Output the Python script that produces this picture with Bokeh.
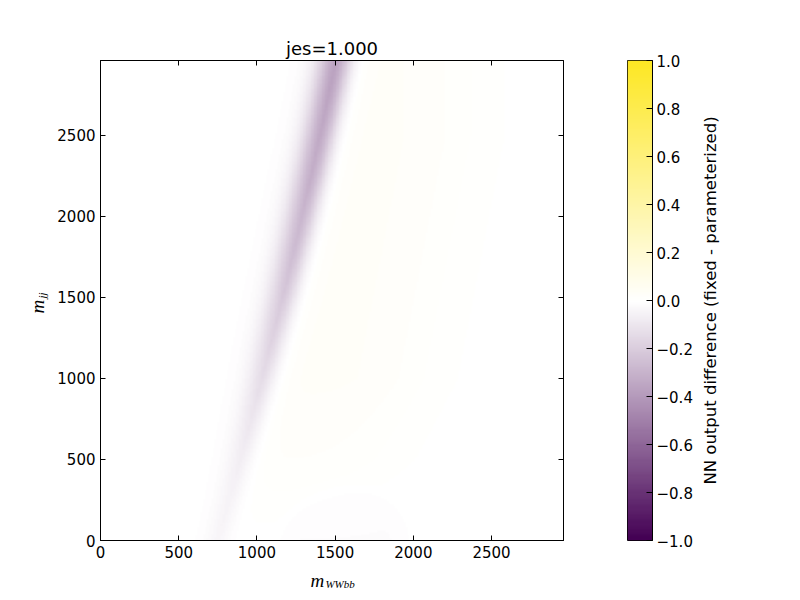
import numpy as np
from bokeh.plotting import figure
from bokeh.layouts import row
from bokeh.models import (LinearColorMapper, FixedTicker, LinearAxis, Label,
                          CustomJSTickFormatter)
from bokeh.embed import file_html
from bokeh.resources import INLINE

# ---------------- data ----------------
title_text = "jes=1.000"
x_ticks = [0, 500, 1000, 1500, 2000, 2500]
y_ticks = [0, 500, 1000, 1500, 2000, 2500]
axis_max = 2960
cbar_ticks = [-1.0, -0.8, -0.6, -0.4, -0.2, 0.0, 0.2, 0.4, 0.6, 0.8, 1.0]
cbar_label = "NN output difference (fixed - parameterized)"

# purple ridge (negative difference): centre, peak value, core half-width, edge softness
band_y = [0, 250, 500, 750, 1000, 1250, 1500, 1750, 2000, 2250, 2500, 2750, 2960]
band_center = [748, 822, 893, 964, 1033, 1099, 1165, 1227, 1287, 1346, 1403, 1458, 1502]
band_depth = [-0.04, -0.05, -0.07, -0.10, -0.14, -0.18, -0.22, -0.26, -0.29, -0.32, -0.34, -0.36, -0.37]
band_core = [45, 48, 50, 52, 55, 58, 62, 65, 68, 70, 72, 74, 75]
band_edge_left = [38, 40, 42, 44, 45, 46, 46, 46, 46, 46, 45, 45, 45]
band_edge_right = [28, 30, 31, 32, 33, 33, 33, 33, 33, 33, 33, 33, 33]

# faint yellow glow right of the ridge
glow_amp = [0.0, 0.01, 0.02, 0.025, 0.03, 0.03, 0.03, 0.03, 0.03, 0.03, 0.03, 0.03, 0.03]
glow_end = [1400, 1600, 1800, 1900, 2000, 2050, 2100, 2150, 2200, 2250, 2300, 2300, 2300]

# faint grey dome at the bottom
dome_cx, dome_rx, dome_ry, dome_depth = 1560, 390, 330, -0.012

# ---------------- build field ----------------
n = 296
xs = (np.arange(n) + 0.5) * axis_max / n
ys = (np.arange(n) + 0.5) * axis_max / n
X, Y = np.meshgrid(xs, ys)
c = np.interp(Y, band_y, band_center)
d = np.interp(Y, band_y, band_depth)
w = np.interp(Y, band_y, band_core)
el = np.interp(Y, band_y, band_edge_left)
er = np.interp(Y, band_y, band_edge_right)
e = np.where(X < c, el, er)
Z = d * (1.0 + np.exp(-w / e)) / (1.0 + np.exp((np.abs(X - c) - w) / e))
ga = np.interp(Y, band_y, glow_amp)
ge = np.interp(Y, band_y, glow_end)
Z += ga / (1.0 + np.exp(-(X - c - w - 80) / 40.0)) / (1.0 + np.exp((X - ge) / 150.0))
r = np.sqrt(((X - dome_cx) / dome_rx) ** 2 + (Y / dome_ry) ** 2)
Z += dome_depth / (1.0 + np.exp((r - 1.0) / 0.06))

# ---------------- colormap: purple -> white -> yellow ----------------
purple = np.array([68, 1, 84])
white = np.array([255, 255, 255])
yellow = np.array([253, 231, 37])
palette = []
for t in np.linspace(-1, 1, 255):
    col = white + (-t) * (purple - white) if t < 0 else white + t * (yellow - white)
    col = np.clip(np.round(col), 0, 255).astype(int)
    palette.append("#%02x%02x%02x" % tuple(col))
mapper = LinearColorMapper(palette=palette, low=-1, high=1)

FONT = "DejaVu Sans"
TICK_SIZE = "15px"

def style_axis(ax, ticks, show_labels=True):
    ax.ticker = FixedTicker(ticks=ticks)
    ax.major_tick_in = 5
    ax.major_tick_out = 0
    ax.minor_tick_line_color = None
    ax.axis_line_color = "black"
    ax.major_tick_line_color = "black"
    ax.major_label_text_font = FONT
    ax.major_label_text_font_size = TICK_SIZE
    ax.major_label_text_color = "black"
    ax.major_label_standoff = 5
    if not show_labels:
        ax.formatter = CustomJSTickFormatter(code="return ''")

# ---------------- main figure ----------------
p = figure(frame_width=463, frame_height=480, x_range=(0, axis_max), y_range=(0, axis_max),
           min_border_left=100, min_border_right=30, min_border_top=60, min_border_bottom=56,
           output_backend="svg", toolbar_location=None, title=title_text)
p.title.align = "center"
p.title.text_font = FONT
p.title.text_font_size = "18px"
p.title.text_font_style = "normal"
p.title.text_color = "black"
p.title.standoff = 4
p.grid.visible = False
p.outline_line_color = "black"
p.outline_line_width = 1
p.background_fill_color = "white"
p.border_fill_color = "white"

p.image(image=[Z], x=0, y=0, dw=axis_max, dh=axis_max, color_mapper=mapper)

style_axis(p.xaxis[0], x_ticks)
style_axis(p.yaxis[0], y_ticks)
top = LinearAxis()
style_axis(top, x_ticks, show_labels=False)
top.major_label_standoff = 0
p.add_layout(top, "above")
right = LinearAxis()
style_axis(right, y_ticks, show_labels=False)
right.major_label_standoff = 0
p.add_layout(right, "right")

# axis labels (math italic with subscript); placed in the side panels so they are not clipped
def side_label(fig, place, x, y, text, size, angle=0.0, font="Liberation Serif",
               style="italic", align="left"):
    fig.add_layout(Label(x=x, y=y, text=text, text_font=font, text_font_style=style,
                         text_font_size=size, text_color="black", angle=angle,
                         text_baseline="alphabetic", text_align=align), place)

side_label(p, "below", 1343, -247, "m", "19px")
side_label(p, "below", 1438, -271, "WWbb", "11px")
side_label(p, "left", -403, 1400, "m", "19px", angle=np.pi / 2)
side_label(p, "left", -377, 1492, "jj", "11px", angle=np.pi / 2)

# ---------------- colour bar figure ----------------
grad = np.linspace(-1, 1, 256).reshape(256, 1)
cb = figure(frame_width=25, frame_height=480, x_range=(0, 1), y_range=(-1, 1),
            min_border_left=34, min_border_right=125, min_border_top=60, min_border_bottom=56,
            output_backend="svg", toolbar_location=None,
            x_axis_location=None, y_axis_location="right")
cb.grid.visible = False
cb.outline_line_color = "black"
cb.outline_line_width = 1
cb.image(image=[grad], x=0, y=-1, dw=1, dh=2, color_mapper=mapper)
cax = cb.yaxis[0]
style_axis(cax, cbar_ticks)
cax.major_tick_in = 6
cax.major_label_standoff = 4
cax.major_label_overrides = {t: ("%.1f" % t).replace("-", "\u2212") for t in cbar_ticks}
side_label(cb, "right", 3.3, 0.0, cbar_label, "16.5px", angle=np.pi / 2, font=FONT,
           style="normal", align="center")

layout = row(p, cb)
open("out.html", "w").write(file_html(layout, INLINE))
